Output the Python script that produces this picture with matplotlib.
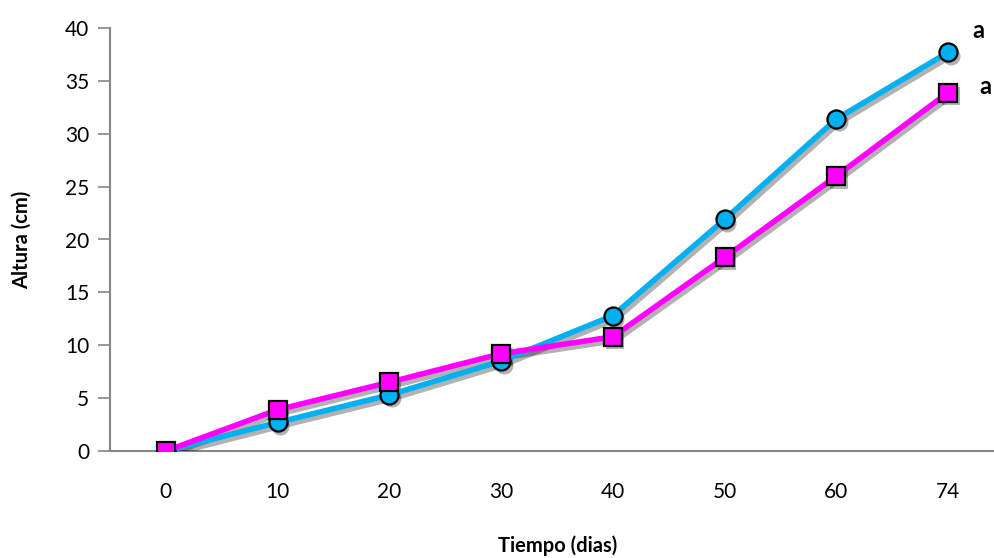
import matplotlib
matplotlib.use("Agg")
import matplotlib.pyplot as plt
import matplotlib.transforms as mtransforms

plt.rcParams['font.family'] = ['Lato', 'DejaVu Sans']

categories = ["0", "10", "20", "30", "40", "50", "60", "74"]
serie_azul = [0.0, 2.7, 5.3, 8.5, 12.8, 21.9, 31.4, 37.7]
serie_magenta = [0.0, 3.9, 6.5, 9.2, 10.8, 18.3, 26.0, 33.9]
y_ticks = [0, 5, 10, 15, 20, 25, 30, 35, 40]

W, H = 994, 558
fig = plt.figure(figsize=(W / 100, H / 100), dpi=100)
left, right, top, bottom = 110, 1004, 28, 451
ax = fig.add_axes([left / W, 1 - bottom / H, (right - left) / W, (bottom - top) / H])

x = list(range(len(categories)))
shadow_tr = mtransforms.offset_copy(ax.transData, fig=fig, x=2.5, y=-3.5, units='dots')

for vals, z, m in [(serie_azul, 2, 'o'), (serie_magenta, 3, 's')]:
    ax.plot(x, vals, color='black', alpha=0.3, lw=4.5, marker=m,
            ms=13, mew=0, transform=shadow_tr, zorder=z)

ax.plot(x, serie_azul, color='#00B0F0', lw=4, marker='o', ms=13,
        mfc='#00B0F0', mec='black', mew=1.6, zorder=3.5)
ax.plot(x, serie_magenta, color='#FF00FF', lw=4, marker='s', ms=12.5,
        mfc='#FF00FF', mec='black', mew=1.6, zorder=4.5)

ax.set_xlim(-0.5, 7.5)
ax.set_ylim(0, 40)
ax.set_xticks(x)
ax.set_xticklabels(categories)
ax.set_yticks(y_ticks)
ax.tick_params(axis='x', length=0, pad=22, labelsize=15, colors='black')
ax.tick_params(axis='y', length=9, width=1.2, color='#868686', labelsize=15, pad=6)
for s in ['top', 'right']:
    ax.spines[s].set_visible(False)
for s in ['left', 'bottom']:
    ax.spines[s].set_color('#868686')
    ax.spines[s].set_linewidth(1.5)
ax.spines['bottom'].set_zorder(1)

ax.set_ylabel('Altura (cm)', fontsize=14.5, fontweight='bold', labelpad=24)
fig.text(558 / W, 1 - 546 / H, 'Tiempo (dias)', fontsize=14.5, fontweight='bold',
         ha='center', va='center')

fig.text(972 / W, 1 - 30 / H, 'a', fontsize=17, fontweight='bold', ha='left', va='center')
fig.text(979 / W, 1 - 86 / H, 'a', fontsize=17, fontweight='bold', ha='left', va='center')

fig.savefig('out.png', dpi=100)
